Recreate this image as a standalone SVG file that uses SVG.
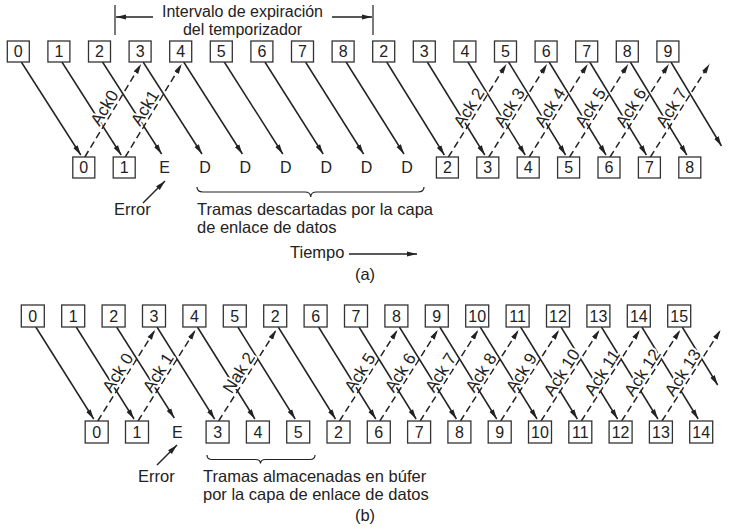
<svg xmlns="http://www.w3.org/2000/svg" width="735" height="532" viewBox="0 0 735 532">
<style>
text{font-family:"Liberation Sans",Arial,Helvetica,sans-serif;fill:#222}
.box rect{fill:#fff;stroke:#333;stroke-width:1.3}
.box text,.nd text{font-size:16px;text-anchor:middle}
.f{stroke:#222;stroke-width:1.5;fill:none;marker-end:url(#ah)}
.k{stroke:#222;stroke-width:1.5;stroke-dasharray:7 4;fill:none;marker-end:url(#ah)}
.p{stroke:#222;stroke-width:1.2;fill:none}
.ack{font-size:17px;text-anchor:middle;paint-order:stroke;stroke:#fff;stroke-width:4;stroke-linejoin:round}
.t{font-size:16.5px}
.h{font-size:16px}
.c{text-anchor:middle}
</style>
<defs>
<marker id="ah" markerUnits="userSpaceOnUse" markerWidth="10" markerHeight="6" viewBox="0 0 10 6" refX="10" refY="3" orient="auto">
<path d="M0,0.4 L10,3 L0,5.6 z" fill="#222"/>
</marker>
</defs>

<g id="connectors">
<!-- (a) timer interval -->
<path class="p" d="M115,5 V35 M373,5 V35"/>
<line class="f" x1="153" y1="17" x2="116" y2="17"/>
<line class="f" x1="332" y1="17" x2="372" y2="17"/>
<!-- (a) frames -->
<line class="f" x1="21.3" y1="62" x2="80.8" y2="155"/>
<line class="f" x1="61.9" y1="62" x2="121.2" y2="155"/>
<line class="f" x1="102.5" y1="62" x2="161.6" y2="154"/>
<line class="f" x1="143.1" y1="62" x2="202" y2="154"/>
<line class="f" x1="183.7" y1="62" x2="242.4" y2="154"/>
<line class="f" x1="224.3" y1="62" x2="282.8" y2="154"/>
<line class="f" x1="264.9" y1="62" x2="323.2" y2="154"/>
<line class="f" x1="305.5" y1="62" x2="363.6" y2="154"/>
<line class="f" x1="346.1" y1="62" x2="404" y2="154"/>
<line class="f" x1="386.7" y1="62" x2="444.4" y2="155"/>
<line class="f" x1="427.3" y1="62" x2="484.8" y2="155"/>
<line class="f" x1="467.9" y1="62" x2="525.2" y2="155"/>
<line class="f" x1="508.5" y1="62" x2="565.6" y2="155"/>
<line class="f" x1="549.1" y1="62" x2="606" y2="155"/>
<line class="f" x1="589.7" y1="62" x2="646.4" y2="155"/>
<line class="f" x1="630.3" y1="62" x2="686.8" y2="155"/>
<line class="f" x1="670.9" y1="62" x2="721.5" y2="146"/>
<!-- (a) acks -->
<line class="k" x1="84.8" y1="157" x2="141.1" y2="64"/>
<line class="k" x1="125.2" y1="157" x2="181.7" y2="64"/>
<line class="k" x1="448.4" y1="157" x2="506.5" y2="64"/>
<line class="k" x1="488.8" y1="157" x2="547.1" y2="64"/>
<line class="k" x1="529.2" y1="157" x2="587.7" y2="64"/>
<line class="k" x1="569.6" y1="157" x2="628.3" y2="64"/>
<line class="k" x1="610" y1="157" x2="668.9" y2="64"/>
<line class="k" x1="650.4" y1="157" x2="709.5" y2="64"/>
<!-- (a) error, brace, time -->
<line class="f" x1="143" y1="203" x2="165" y2="181"/>
<path class="p" d="M197,187 q0,5 6,5 L304.7,192 q6,0 6,5 q0,-5 6,-5 L418,192 q6,0 6,-5"/>
<line class="f" x1="349" y1="254" x2="417" y2="254"/>

<!-- (b) frames -->
<line class="f" x1="35.8" y1="327" x2="93.7" y2="419"/>
<line class="f" x1="76.2" y1="327" x2="134" y2="419"/>
<line class="f" x1="116.6" y1="327" x2="174.3" y2="418"/>
<line class="f" x1="157" y1="327" x2="214.6" y2="419"/>
<line class="f" x1="197.4" y1="327" x2="254.9" y2="419"/>
<line class="f" x1="237.8" y1="327" x2="295.2" y2="419"/>
<line class="f" x1="278.2" y1="327" x2="335.5" y2="419"/>
<line class="f" x1="318.6" y1="327" x2="375.8" y2="419"/>
<line class="f" x1="359" y1="327" x2="416.1" y2="419"/>
<line class="f" x1="399.4" y1="327" x2="456.4" y2="419"/>
<line class="f" x1="439.8" y1="327" x2="496.7" y2="419"/>
<line class="f" x1="480.2" y1="327" x2="537" y2="419"/>
<line class="f" x1="520.6" y1="327" x2="577.3" y2="419"/>
<line class="f" x1="561" y1="327" x2="617.6" y2="419"/>
<line class="f" x1="601.4" y1="327" x2="657.9" y2="419"/>
<line class="f" x1="641.8" y1="327" x2="698.2" y2="419"/>
<line class="f" x1="682.2" y1="327" x2="717.7" y2="385"/>
<!-- (b) acks / nak -->
<line class="k" x1="97.7" y1="421" x2="155" y2="330"/>
<line class="k" x1="138" y1="421" x2="195.4" y2="330"/>
<line class="k" x1="218.6" y1="421" x2="276.2" y2="330"/>
<line class="k" x1="339.5" y1="421" x2="397.4" y2="330"/>
<line class="k" x1="379.8" y1="421" x2="437.8" y2="330"/>
<line class="k" x1="420.1" y1="421" x2="478.2" y2="330"/>
<line class="k" x1="460.4" y1="421" x2="518.6" y2="330"/>
<line class="k" x1="500.7" y1="421" x2="559" y2="330"/>
<line class="k" x1="541" y1="421" x2="599.4" y2="330"/>
<line class="k" x1="581.3" y1="421" x2="639.8" y2="330"/>
<line class="k" x1="621.6" y1="421" x2="680.2" y2="330"/>
<line class="k" x1="661.9" y1="421" x2="720.6" y2="330"/>
<!-- (b) error, brace -->
<line class="f" x1="157" y1="465" x2="177" y2="445"/>
<path class="p" d="M207,455 q0,4.5 5,4.5 L255.5,459.5 q5,0 5,4 q0,-4 5,-4 L310,459.5 q5,0 5,-4.5"/>
</g>

<g id="ack-labels">
<text class="ack" transform="translate(111.8,112.4) rotate(-58.8)" y="-3">Ack0</text>
<text class="ack" transform="translate(152.3,112.4) rotate(-58.7)" y="-3">Ack1</text>
<text class="ack" transform="translate(476.3,112.4) rotate(-58)" y="-3">Ack 2</text>
<text class="ack" transform="translate(516.8,112.4) rotate(-57.9)" y="-3">Ack 3</text>
<text class="ack" transform="translate(557.3,112.4) rotate(-57.8)" y="-3">Ack 4</text>
<text class="ack" transform="translate(597.8,112.4) rotate(-57.7)" y="-3">Ack 5</text>
<text class="ack" transform="translate(638.3,112.4) rotate(-57.7)" y="-3">Ack 6</text>
<text class="ack" transform="translate(678.8,112.4) rotate(-57.6)" y="-3">Ack 7</text>

<text class="ack" transform="translate(125.2,377.3) rotate(-57.8)" y="-3">Ack 0</text>
<text class="ack" transform="translate(165.6,377.3) rotate(-57.8)" y="-3">Ack 1</text>
<text class="ack" transform="translate(246.2,377.3) rotate(-57.6)" y="-3">Nak 2</text>
<text class="ack" transform="translate(367.3,377.3) rotate(-57.5)" y="-3">Ack 5</text>
<text class="ack" transform="translate(407.6,377.3) rotate(-57.5)" y="-3">Ack 6</text>
<text class="ack" transform="translate(448,377.3) rotate(-57.4)" y="-3">Ack 7</text>
<text class="ack" transform="translate(488.3,377.3) rotate(-57.4)" y="-3">Ack 8</text>
<text class="ack" transform="translate(528.7,377.3) rotate(-57.4)" y="-3">Ack 9</text>
<text class="ack" transform="translate(569,377.3) rotate(-57.3)" y="-3">Ack 10</text>
<text class="ack" transform="translate(609.4,377.3) rotate(-57.3)" y="-3">Ack 11</text>
<text class="ack" transform="translate(649.7,377.3) rotate(-57.2)" y="-3">Ack 12</text>
<text class="ack" transform="translate(690.1,377.3) rotate(-57.2)" y="-3">Ack 13</text>
</g>

<!-- (a) sender -->
<g id="a-s0" class="box"><rect x="7.3" y="41" width="22" height="21"/><text x="18.3" y="57">0</text></g>
<g id="a-s1" class="box"><rect x="47.9" y="41" width="22" height="21"/><text x="58.9" y="57">1</text></g>
<g id="a-s2" class="box"><rect x="88.5" y="41" width="22" height="21"/><text x="99.5" y="57">2</text></g>
<g id="a-s3" class="box"><rect x="129.1" y="41" width="22" height="21"/><text x="140.1" y="57">3</text></g>
<g id="a-s4" class="box"><rect x="169.7" y="41" width="22" height="21"/><text x="180.7" y="57">4</text></g>
<g id="a-s5" class="box"><rect x="210.3" y="41" width="22" height="21"/><text x="221.3" y="57">5</text></g>
<g id="a-s6" class="box"><rect x="250.9" y="41" width="22" height="21"/><text x="261.9" y="57">6</text></g>
<g id="a-s7" class="box"><rect x="291.5" y="41" width="22" height="21"/><text x="302.5" y="57">7</text></g>
<g id="a-s8" class="box"><rect x="332.1" y="41" width="22" height="21"/><text x="343.1" y="57">8</text></g>
<g id="a-s9" class="box"><rect x="372.7" y="41" width="22" height="21"/><text x="383.7" y="57">2</text></g>
<g id="a-s10" class="box"><rect x="413.3" y="41" width="22" height="21"/><text x="424.3" y="57">3</text></g>
<g id="a-s11" class="box"><rect x="453.9" y="41" width="22" height="21"/><text x="464.9" y="57">4</text></g>
<g id="a-s12" class="box"><rect x="494.5" y="41" width="22" height="21"/><text x="505.5" y="57">5</text></g>
<g id="a-s13" class="box"><rect x="535.1" y="41" width="22" height="21"/><text x="546.1" y="57">6</text></g>
<g id="a-s14" class="box"><rect x="575.7" y="41" width="22" height="21"/><text x="586.7" y="57">7</text></g>
<g id="a-s15" class="box"><rect x="616.3" y="41" width="22" height="21"/><text x="627.3" y="57">8</text></g>
<g id="a-s16" class="box"><rect x="656.9" y="41" width="22" height="21"/><text x="667.9" y="57">9</text></g>

<!-- (a) receiver -->
<g id="a-r0" class="box"><rect x="72.8" y="157" width="22" height="21"/><text x="83.8" y="173">0</text></g>
<g id="a-r1" class="box"><rect x="113.2" y="157" width="22" height="21"/><text x="124.2" y="173">1</text></g>
<g id="a-r2" class="nd"><text x="164.6" y="173">E</text></g>
<g id="a-r3" class="nd"><text x="205" y="173">D</text></g>
<g id="a-r4" class="nd"><text x="245.4" y="173">D</text></g>
<g id="a-r5" class="nd"><text x="285.8" y="173">D</text></g>
<g id="a-r6" class="nd"><text x="326.2" y="173">D</text></g>
<g id="a-r7" class="nd"><text x="366.6" y="173">D</text></g>
<g id="a-r8" class="nd"><text x="407" y="173">D</text></g>
<g id="a-r9" class="box"><rect x="436.4" y="157" width="22" height="21"/><text x="447.4" y="173">2</text></g>
<g id="a-r10" class="box"><rect x="476.8" y="157" width="22" height="21"/><text x="487.8" y="173">3</text></g>
<g id="a-r11" class="box"><rect x="517.2" y="157" width="22" height="21"/><text x="528.2" y="173">4</text></g>
<g id="a-r12" class="box"><rect x="557.6" y="157" width="22" height="21"/><text x="568.6" y="173">5</text></g>
<g id="a-r13" class="box"><rect x="598" y="157" width="22" height="21"/><text x="609" y="173">6</text></g>
<g id="a-r14" class="box"><rect x="638.4" y="157" width="22" height="21"/><text x="649.4" y="173">7</text></g>
<g id="a-r15" class="box"><rect x="678.8" y="157" width="22" height="21"/><text x="689.8" y="173">8</text></g>

<!-- (a) texts -->
<g id="a-texts">
<text class="c h" x="242.5" y="16.5">Intervalo de expiración</text>
<text class="c h" x="242.5" y="35">del temporizador</text>
<text class="t" x="114" y="215">Error</text>
<text class="t" x="197" y="215">Tramas descartadas por la capa</text>
<text class="t" x="197" y="233">de enlace de datos</text>
<text class="t" x="290" y="258">Tiempo</text>
<text class="c t" x="365" y="280">(a)</text>
</g>

<!-- (b) sender -->
<g id="b-s0" class="box"><rect x="21.3" y="305" width="23" height="22"/><text x="32.8" y="321.5">0</text></g>
<g id="b-s1" class="box"><rect x="61.7" y="305" width="23" height="22"/><text x="73.2" y="321.5">1</text></g>
<g id="b-s2" class="box"><rect x="102.1" y="305" width="23" height="22"/><text x="113.6" y="321.5">2</text></g>
<g id="b-s3" class="box"><rect x="142.5" y="305" width="23" height="22"/><text x="154" y="321.5">3</text></g>
<g id="b-s4" class="box"><rect x="182.9" y="305" width="23" height="22"/><text x="194.4" y="321.5">4</text></g>
<g id="b-s5" class="box"><rect x="223.3" y="305" width="23" height="22"/><text x="234.8" y="321.5">5</text></g>
<g id="b-s6" class="box"><rect x="263.7" y="305" width="23" height="22"/><text x="275.2" y="321.5">2</text></g>
<g id="b-s7" class="box"><rect x="304.1" y="305" width="23" height="22"/><text x="315.6" y="321.5">6</text></g>
<g id="b-s8" class="box"><rect x="344.5" y="305" width="23" height="22"/><text x="356" y="321.5">7</text></g>
<g id="b-s9" class="box"><rect x="384.9" y="305" width="23" height="22"/><text x="396.4" y="321.5">8</text></g>
<g id="b-s10" class="box"><rect x="425.3" y="305" width="23" height="22"/><text x="436.8" y="321.5">9</text></g>
<g id="b-s11" class="box"><rect x="465.7" y="305" width="23" height="22"/><text x="477.2" y="321.5">10</text></g>
<g id="b-s12" class="box"><rect x="506.1" y="305" width="23" height="22"/><text x="517.6" y="321.5">11</text></g>
<g id="b-s13" class="box"><rect x="546.5" y="305" width="23" height="22"/><text x="558" y="321.5">12</text></g>
<g id="b-s14" class="box"><rect x="586.9" y="305" width="23" height="22"/><text x="598.4" y="321.5">13</text></g>
<g id="b-s15" class="box"><rect x="627.3" y="305" width="23" height="22"/><text x="638.8" y="321.5">14</text></g>
<g id="b-s16" class="box"><rect x="667.7" y="305" width="23" height="22"/><text x="679.2" y="321.5">15</text></g>

<!-- (b) receiver -->
<g id="b-r0" class="box"><rect x="85.2" y="421" width="23" height="22"/><text x="96.7" y="437.5">0</text></g>
<g id="b-r1" class="box"><rect x="125.5" y="421" width="23" height="22"/><text x="137" y="437.5">1</text></g>
<g id="b-r2" class="nd"><text x="177.3" y="437.5">E</text></g>
<g id="b-r3" class="box"><rect x="206.1" y="421" width="23" height="22"/><text x="217.6" y="437.5">3</text></g>
<g id="b-r4" class="box"><rect x="246.4" y="421" width="23" height="22"/><text x="257.9" y="437.5">4</text></g>
<g id="b-r5" class="box"><rect x="286.7" y="421" width="23" height="22"/><text x="298.2" y="437.5">5</text></g>
<g id="b-r6" class="box"><rect x="327" y="421" width="23" height="22"/><text x="338.5" y="437.5">2</text></g>
<g id="b-r7" class="box"><rect x="367.3" y="421" width="23" height="22"/><text x="378.8" y="437.5">6</text></g>
<g id="b-r8" class="box"><rect x="407.6" y="421" width="23" height="22"/><text x="419.1" y="437.5">7</text></g>
<g id="b-r9" class="box"><rect x="447.9" y="421" width="23" height="22"/><text x="459.4" y="437.5">8</text></g>
<g id="b-r10" class="box"><rect x="488.2" y="421" width="23" height="22"/><text x="499.7" y="437.5">9</text></g>
<g id="b-r11" class="box"><rect x="528.5" y="421" width="23" height="22"/><text x="540" y="437.5">10</text></g>
<g id="b-r12" class="box"><rect x="568.8" y="421" width="23" height="22"/><text x="580.3" y="437.5">11</text></g>
<g id="b-r13" class="box"><rect x="609.1" y="421" width="23" height="22"/><text x="620.6" y="437.5">12</text></g>
<g id="b-r14" class="box"><rect x="649.4" y="421" width="23" height="22"/><text x="660.9" y="437.5">13</text></g>
<g id="b-r15" class="box"><rect x="689.7" y="421" width="23" height="22"/><text x="701.2" y="437.5">14</text></g>

<!-- (b) texts -->
<g id="b-texts">
<text class="t" x="138" y="482">Error</text>
<text class="t" x="203" y="482">Tramas almacenadas en búfer</text>
<text class="t" x="203" y="500">por la capa de enlace de datos</text>
<text class="c t" x="365" y="521">(b)</text>
</g>
</svg>
